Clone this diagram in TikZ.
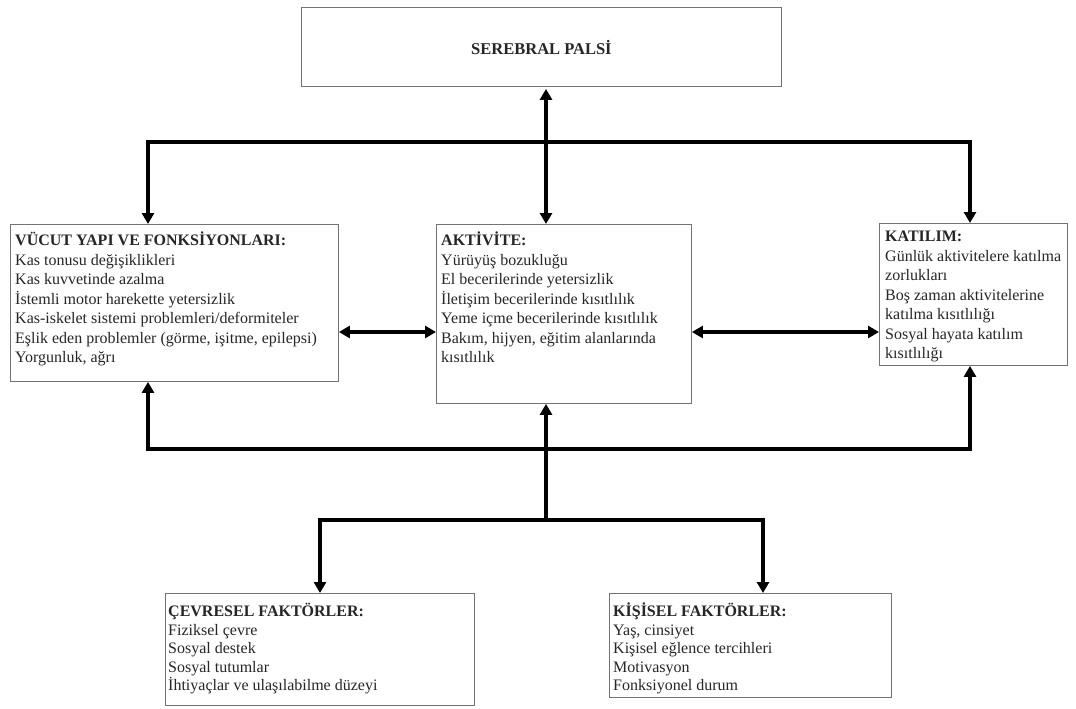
\documentclass[tikz,border=0pt]{standalone}
\usepackage{fontspec}
\setmainfont{Liberation Serif}
\usetikzlibrary{arrows.meta}
\tikzset{
  box/.style={draw=black!55, line width=0.9pt, fill=white, inner sep=0pt, anchor=north west},
  txt/.style={inner sep=0pt, anchor=north west, align=left, text=black!85,
    font=\fontsize{16}{19.5}\selectfont},
  btxt/.style={txt, font=\fontsize{16}{18.5}\selectfont},
  conn/.style={line width=3.6pt, line join=miter, black,
    {Triangle[length=11pt,width=12pt]}-{Triangle[length=11pt,width=12pt]}},
  oneway/.style={line width=3.6pt, black, -{Triangle[length=11pt,width=12pt]}}
}
\begin{document}
\begin{tikzpicture}[x=1pt,y=1pt]
\useasboundingbox (0,0) rectangle (1076,-709);
% boxes
\node[box, minimum width=480pt, minimum height=79pt] (sp) at (301,-7) {};
\node[font=\fontsize{16.5}{18}\selectfont\bfseries, text=black!85] (spt) at ([yshift=-1pt]sp.center) {SEREBRAL PALSİ};
\node[box, minimum width=328pt, minimum height=157pt] (vyk) at (10,-224) {};
\node[box, minimum width=255pt, minimum height=179pt] (act) at (436,-224) {};
\node[box, minimum width=188pt, minimum height=142pt] (kat) at (879,-223) {};
\node[box, minimum width=309pt, minimum height=112pt] (cev) at (165,-593) {};
\node[box, minimum width=282pt, minimum height=104pt] (kis) at (609,-593) {};
% texts
\node[txt] (vykt) at ([shift={(5,-8)}]vyk.north west) {\textbf{VÜCUT YAPI VE FONKSİYONLARI:}\\
Kas tonusu değişiklikleri\\
Kas kuvvetinde azalma\\
İstemli motor harekette yetersizlik\\
Kas-iskelet sistemi problemleri/deformiteler\\
Eşlik eden problemler (görme, işitme, epilepsi)\\
Yorgunluk, ağrı};
\node[txt] (actt) at ([shift={(5,-8)}]act.north west) {\textbf{AKTİVİTE:}\\
Yürüyüş bozukluğu\\
El becerilerinde yetersizlik\\
İletişim becerilerinde kısıtlılık\\
Yeme içme becerilerinde kısıtlılık\\
Bakım, hijyen, eğitim alanlarında\\
kısıtlılık};
\node[txt] (katt) at ([shift={(6,-8)}]kat.north west) {\textbf{KATILIM:}\\
Günlük aktivitelere katılma\\
zorlukları\\
Boş zaman aktivitelerine\\
katılma kısıtlılığı\\
Sosyal hayata katılım\\
kısıtlılığı};
\node[btxt] (cevt) at ([shift={(3,-10)}]cev.north west) {\textbf{ÇEVRESEL FAKTÖRLER:}\\
Fiziksel çevre\\
Sosyal destek\\
Sosyal tutumlar\\
İhtiyaçlar ve ulaşılabilme düzeyi};
\node[btxt] (kist) at ([shift={(4,-10)}]kis.north west) {\textbf{KİŞİSEL FAKTÖRLER:}\\
Yaş, cinsiyet\\
Kişisel eğlence tercihleri\\
Motivasyon\\
Fonksiyonel durum};
% junction coordinates
\coordinate (vx) at (546,0);
\coordinate (tl) at (148,-142);
\coordinate (tr) at (970,-142);
\coordinate (hy) at (0,-332);
\coordinate (bl) at (148,-449);
\coordinate (br) at (970,-449);
\coordinate (jn) at (546,-520);
\coordinate (cl) at (320,-520);
\coordinate (cr) at (763,-520);
% connectors
\draw[conn] ([yshift=-2pt]sp.south -| vx) -- (act.north -| vx);
\draw[conn] (vyk.north -| tl) -- (tl) -- (tr) -- (kat.north -| tr);
\draw[conn] (vyk.east |- hy) -- (act.west |- hy);
\draw[conn] (act.east |- hy) -- (kat.west |- hy);
\draw[conn] (vyk.south -| bl) -- (bl) -- (br) -- (kat.south -| br);
\draw[oneway] (jn) -- (act.south -| jn);
\draw[conn] (cev.north -| cl) -- (cl) -- (cr) -- (kis.north -| cr);
\end{tikzpicture}
\end{document}
